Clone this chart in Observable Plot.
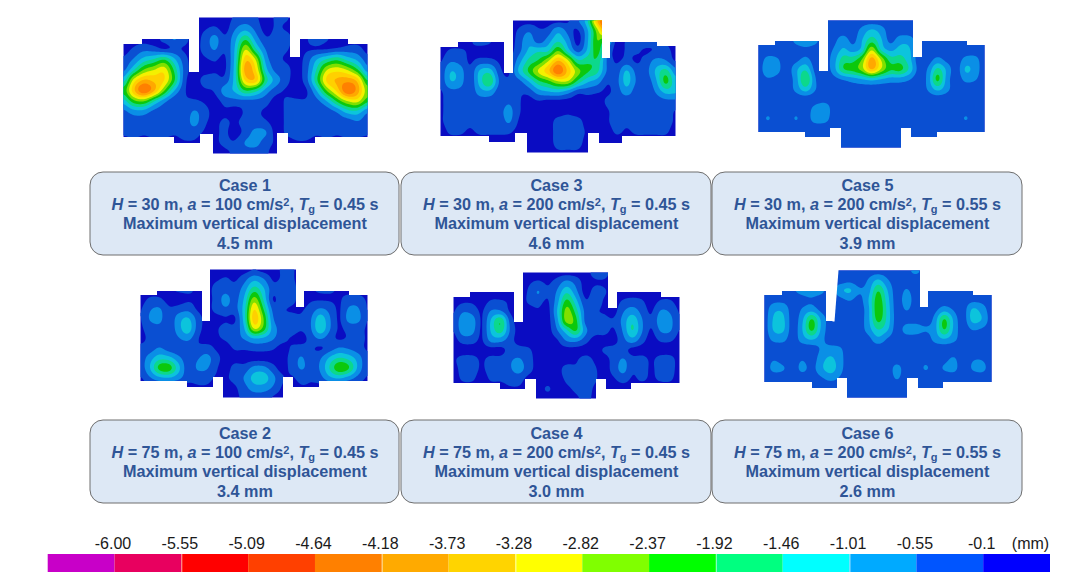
<!DOCTYPE html>
<html><head><meta charset="utf-8">
<script src="https://cdn.jsdelivr.net/npm/d3@7"></script>
<script src="https://cdn.jsdelivr.net/npm/@observablehq/plot@0.6"></script>
<style>html,body{margin:0;padding:0;background:#fff}svg{display:block}</style>
</head><body><div id="chart"></div>
<script>
// Displacement magnitude, in tenths of a millimetre (25 columns x 14 rows)
const case1 = [
[0,0,0,0,0,0,0,0,0,0,0,2,3,2,0,2,2,0,0,0,0,0,0,0,0],
[0,0,0,0,0,0,0,0,1,2,0,5,8,4,0,2,1,0,0,0,0,0,0,0,0],
[0,0,0,0,3,6,3,0,3,7,2,9,18,8,2,3,3,0,1,5,2,0,0,0,0],
[0,2,4,3,1,2,1,0,3,6,2,11,28,15,5,3,2,0,1,1,1,2,3,3,0],
[2,6,12,15,19,11,3,0,1,2,1,12,36,28,8,3,1,0,3,10,15,18,13,9,3],
[4,14,24,28,31,18,4,0,0,1,1,13,40,33,12,4,3,0,4,15,28,31,28,20,7],
[12,30,38,36,33,20,3,0,3,3,3,13,34,36,17,8,3,0,4,18,34,38,40,36,18],
[20,36,46,38,24,10,2,0,1,2,8,11,19,16,8,3,1,0,1,10,24,34,46,40,25],
[12,22,24,15,7,2,2,2,1,0,3,4,4,4,3,0,2,2,2,4,10,20,28,30,20],
[4,8,8,4,3,3,3,6,3,0,1,0,2,2,1,0,2,3,3,3,3,6,12,13,6],
[2,3,3,2,3,3,3,7,2,1,2,1,3,3,2,0,2,3,3,2,3,3,3,5,3],
[2,3,2,3,3,2,3,3,1,1,2,0,3,7,6,0,2,3,3,2,3,2,3,3,2],
[0,0,0,0,0,0,1,1,0,1,2,2,6,7,3,1,0,1,1,0,0,0,0,0,0],
[0,0,0,0,0,0,0,0,0,0,1,2,3,3,2,0,0,0,0,0,0,0,0,0,0]];
const case2 = [
[0,0,0,0,0,0,0,0,0,0,0,0,1,0,0,2,2,0,0,0,0,0,0,0,0],
[0,0,0,0,0,0,0,0,1,2,1,4,9,6,1,2,2,0,0,0,0,0,0,0,0],
[0,0,0,1,2,2,1,0,3,4,3,8,17,11,3,4,3,0,1,2,2,1,0,0,0],
[0,2,2,0,0,1,1,0,3,7,4,11,26,14,1,5,3,0,1,1,1,1,3,3,1],
[1,5,6,2,3,4,1,0,3,5,4,13,33,19,4,2,1,1,3,6,4,1,6,6,1],
[1,6,7,2,8,11,4,0,0,1,1,13,36,24,6,3,3,2,5,13,6,1,7,7,1],
[1,3,4,2,8,13,4,0,1,3,3,10,29,22,8,4,4,2,5,14,6,1,3,3,1],
[1,2,3,2,5,7,2,0,1,2,4,6,10,9,6,3,1,0,3,6,3,1,2,3,1],
[2,3,6,3,2,2,2,3,1,0,2,2,3,3,2,0,2,3,2,1,3,6,5,3,1],
[3,8,13,12,7,3,5,7,3,0,0,0,0,0,0,0,3,6,3,5,11,15,13,8,2],
[3,10,21,22,12,3,6,6,2,0,3,3,7,7,3,0,3,6,4,6,15,23,20,9,2],
[1,5,9,10,7,3,3,3,1,1,3,6,12,13,7,2,1,3,2,4,9,11,8,4,1],
[0,0,0,0,0,0,1,1,0,0,1,4,8,8,5,1,0,1,1,0,0,0,0,0,0],
[0,0,0,0,0,0,0,0,0,0,1,2,3,3,1,0,0,0,0,0,0,0,0,0,0]];
const case3 = [
[0,0,0,0,0,0,0,0,0,0,0,0,0,1,5,14,38,48,0,0,0,0,0,0,0],
[0,0,0,0,0,0,0,0,2,5,2,3,9,4,1,9,26,38,0,0,0,0,0,0,0],
[0,0,0,1,3,2,0,0,3,9,3,8,14,8,0,9,24,14,0,2,3,3,2,1,0],
[0,2,2,1,0,0,0,0,4,11,14,14,24,13,4,11,22,6,0,2,2,1,2,3,0],
[1,5,4,1,3,3,1,0,8,16,20,28,38,30,16,18,18,5,1,3,1,3,7,6,1],
[2,10,8,2,11,13,3,1,11,20,29,36,46,36,26,20,16,5,3,11,4,4,11,17,7],
[2,10,8,2,12,19,5,2,4,10,18,22,28,28,18,11,8,2,4,12,5,3,9,21,11],
[1,4,4,2,8,9,3,3,2,3,8,10,11,8,3,3,2,1,3,8,3,2,6,12,11],
[1,3,3,2,3,3,3,5,2,0,1,0,0,0,0,0,0,2,3,2,3,3,3,4,4],
[1,3,3,2,3,3,4,7,2,0,0,0,0,1,0,0,0,1,3,2,3,3,3,4,1],
[1,3,3,2,3,3,3,6,1,0,1,0,3,3,3,0,0,1,3,2,3,3,3,3,1],
[0,2,2,1,2,2,2,2,0,0,0,0,3,3,3,1,0,0,2,1,2,2,2,2,0],
[0,0,0,0,0,0,0,0,0,0,1,0,3,3,3,0,0,0,0,0,0,0,0,0,0],
[0,0,0,0,0,0,0,0,0,0,0,0,1,1,1,0,0,0,0,0,0,0,0,0,0]];
const case4 = [
[0,0,0,0,0,0,0,0,0,0,0,0,0,0,0,3,3,0,0,0,0,0,0,0,0],
[0,0,0,0,0,0,0,0,1,2,1,3,7,4,0,1,1,0,0,0,0,0,0,0,0],
[0,0,0,0,0,0,0,0,2,6,2,6,14,7,0,3,2,0,0,0,0,0,0,0,0],
[0,1,1,0,2,2,1,0,2,3,1,8,21,12,2,4,1,0,2,3,2,0,2,2,0],
[1,5,4,1,6,6,1,0,0,1,0,10,26,17,4,2,1,0,5,8,4,1,6,5,1],
[1,9,8,1,11,19,4,0,0,0,0,8,26,21,4,3,3,2,7,14,6,2,8,7,1],
[1,8,7,1,11,17,5,0,0,1,0,5,13,20,7,3,3,1,6,15,6,1,6,6,1],
[0,3,3,1,7,7,3,0,0,0,0,1,6,7,3,0,0,0,4,8,3,0,2,2,0],
[0,0,0,0,0,0,3,3,2,0,0,0,0,0,0,0,2,3,3,0,0,0,0,0,0],
[1,3,3,1,3,3,5,6,3,0,0,0,0,1,3,1,0,3,6,3,3,1,3,3,0],
[0,3,3,1,3,3,5,7,3,0,0,0,3,2,3,2,0,3,7,2,3,1,3,3,0],
[0,2,2,0,2,2,3,3,0,0,0,0,2,2,3,2,0,1,3,1,2,1,2,2,0],
[0,0,0,0,0,0,1,1,0,0,2,0,1,2,3,1,0,0,0,0,0,0,0,0,0],
[0,0,0,0,0,0,0,0,0,0,0,0,0,1,2,1,0,0,0,0,0,0,0,0,0]];
const case5 = [
[3,3,3,3,3,3,3,3,3,3,3,3,3,3,3,3,5,3,3,3,3,3,3,3,3],
[3,3,3,3,3,3,3,3,3,3,3,7,11,8,3,3,3,3,3,3,3,3,3,3,3],
[3,3,3,3,7,10,7,3,4,8,4,10,17,11,4,8,8,3,3,3,3,3,3,3,3],
[3,3,3,3,3,4,3,3,6,11,8,12,28,14,9,12,11,3,3,3,3,3,3,3,3],
[3,7,6,3,4,7,3,3,8,17,17,24,40,28,17,17,12,3,3,7,4,3,7,7,3],
[3,9,7,3,9,14,4,3,8,19,21,26,38,28,20,21,14,4,6,16,9,3,11,8,3],
[3,5,4,3,8,20,6,3,4,6,8,10,12,10,8,8,6,3,7,21,8,3,7,6,3],
[3,3,3,3,7,13,6,3,3,3,3,3,3,3,3,3,3,3,6,12,7,3,3,3,3],
[3,3,3,3,3,3,3,3,3,3,3,3,3,3,3,3,3,3,3,3,3,3,3,3,3],
[3,3,3,3,3,3,7,9,3,3,3,3,3,3,3,3,3,3,3,3,3,3,3,3,3],
[3,6,3,3,6,3,8,8,3,3,3,3,3,3,3,3,3,3,3,3,5,3,6,3,3],
[3,3,3,3,3,3,3,3,3,3,3,3,3,3,3,3,3,3,3,3,3,3,3,3,3],
[3,3,3,3,3,3,3,3,3,3,3,3,3,3,3,3,3,3,3,3,3,3,3,3,3],
[3,3,3,3,3,3,3,3,3,3,3,3,3,3,3,3,3,3,3,3,3,3,3,3,3]];
const case6 = [
[3,3,3,3,3,3,3,3,3,3,3,3,3,3,3,4,7,3,3,3,3,3,3,3,3],
[3,3,3,3,3,3,3,3,3,4,3,6,11,6,3,3,3,3,3,3,3,3,3,3,3],
[3,3,3,5,7,8,7,3,9,11,6,8,19,10,3,6,3,3,3,3,3,3,3,3,3],
[3,4,4,3,4,5,3,3,4,6,4,10,22,12,3,8,3,3,3,3,3,3,4,4,3],
[3,9,9,3,6,8,4,3,3,3,3,9,23,13,3,6,3,3,4,8,5,3,11,8,3],
[3,11,11,3,9,20,9,3,3,3,3,9,21,13,3,3,3,3,7,20,9,3,12,10,3],
[3,11,11,3,10,21,9,3,3,3,3,8,15,11,3,8,8,6,8,20,9,3,6,5,3],
[3,7,7,3,8,11,7,3,3,3,3,4,9,5,3,3,3,3,7,10,7,3,3,3,3],
[3,3,3,3,3,3,6,7,6,3,3,3,3,3,3,3,3,3,3,3,3,3,3,3,3],
[3,5,3,3,5,3,8,11,7,3,3,3,3,3,3,3,3,4,3,4,6,3,5,5,3],
[3,7,6,3,7,4,9,13,7,3,3,3,3,3,7,3,3,6,4,6,7,3,6,7,3],
[3,3,3,3,3,3,5,7,5,3,3,3,3,3,6,3,3,3,3,3,3,3,3,3,3],
[3,3,3,3,3,3,3,3,3,3,3,3,3,3,3,3,3,3,3,3,3,3,3,3,3],
[3,3,3,3,3,3,3,3,3,3,3,3,3,3,3,3,3,3,3,3,3,3,3,3,3]];

// Case parameters
const caseNumbers = [1,3,5,2,4,6];
const caseGrids = [case1,case3,case5,case2,case4,case6];
const heights = [30,30,30,75,75,75];
const accels = [100,200,200,100,200,200];
const periods = ["0.45","0.45","0.55","0.45","0.45","0.55"];
const maxDisp = ["4.5","4.6","3.9","3.4","3.0","2.6"];

// Legend
const legendLabels = ["-6.00","-5.55","-5.09","-4.64","-4.18","-3.73","-3.28","-2.82","-2.37","-1.92","-1.46","-1.01","-0.55","-0.1"];
const legendColors = ["#c800c8","#e8005f","#ff0000","#ff4000","#ff8000","#ffaa00","#ffd400","#ffff00","#80ff00","#00ff00","#00ff80","#00ffff","#00aaff","#0055ff","#0000ff"];
const legendSeams = ["-5.55","-4.18","-3.28","-1.92","-1.01"];
const mapColors = ["#0a0cc2","#0a4fd2","#0a8fe6","#0cc4dc","#0cd88c","#0cc80c","#80e000","#f4f000","#ffd000","#ffa800","#ff8000","#ff4000","#ff0000","#e8005f","#c800c8"];

// Layout of the six maps on the page: [left, top, right, bottom]
const mapBounds = [[123,17,367,153],[440,20,675,152],[758,20,984,147],[140,269,367,397],[453,272,679,398],[764,270,991,397]];
// Areas of each map's bounding box outside the building plan
const mapNotches = [
 [[123,17,142,44],[142,17,189,39],[189,17,199,72],[290,17,300,57],[300,17,348,39],[348,17,367,44],[123,137,174,153],[174,143,200,153],[200,134,213,153],[277,133,288,153],[288,143,315,153],[315,137,367,153]],
 [[440,20,458,47],[458,20,504,42],[504,20,513,73],[602,20,610,58],[610,20,657,42],[657,20,675,46],[440,136,489,152],[489,142,515,152],[515,133,527,152],[588,133,599,152],[599,143,622,152],[622,136,675,152]],
 [[758,20,775,45],[775,20,819,41],[819,20,828,71],[913,20,922,57],[922,20,967,41],[967,20,984,45],[758,132,805,147],[805,137,830,147],[830,128,841,147],[901,128,911,147],[911,137,937,147],[937,132,984,147]],
 [[140,269,157,295],[157,269,202,291],[202,269,210,321],[296,269,304,307],[304,269,349,291],[349,269,367,295],[140,381,187,397],[187,387,213,397],[213,377,223,397],[283,377,293,397],[293,387,319,397],[319,381,367,397]],
 [[453,272,470,297],[470,272,514,292],[514,272,523,322],[608,272,617,308],[617,272,661,292],[661,272,679,297],[453,383,500,398],[500,389,525,398],[525,379,536,398],[596,379,606,398],[606,389,631,398],[631,383,679,398]],
 [[764,270,782,295],[782,270,826,291],[826,270,834,321],[920,270,928,307],[928,270,973,291],[973,270,991,295],[764,382,812,397],[812,388,837,397],[837,378,847,397],[907,378,918,397],[918,388,943,397],[943,382,991,397]]
];
const case6Wedge = [[832,268],[838,268],[838,270],[834,321],[832,321]];
const boxBounds = [[90,172,399,255],[401,172,711,255],[712,172,1022,255],[90,420,399,503],[401,420,711,503],[712,420,1022,503]];
const lineOffsets = [13,32,51,71];
const legendBar = {left:47.7,right:1050,top:554,bottom:572,labelY:543};

// First contour sits a little above -0.1 to offset how coarsely the blue zones were read
const levels = legendLabels.map(l => Math.abs(+l)).reverse();
levels[0] = 0.15;
const thresholds = [-1, ...levels];

// Smooth (Catmull-Rom) sampling of one gridded field for the contour raster
function smoothField(grid){
  const rows = grid.length, cols = grid[0].length;
  const at = (i,j) => grid[Math.max(0,Math.min(rows-1,j))][Math.max(0,Math.min(cols-1,i))]/10;
  const cr = (a,b,c,d,t) => b + 0.5*t*(c-a + t*(2*a-5*b+4*c-d + t*(3*(b-c)+d-a)));
  return (index,w,h) => {
    const W = new Float64Array(w*h);
    for(let py=0;py<h;py++){
      const v=(py+.5)/h*(rows-1), j=Math.floor(v), tv=v-j;
      for(let px=0;px<w;px++){
        const u=(px+.5)/w*(cols-1), i=Math.floor(u), tu=u-i;
        const col=[-1,0,1,2].map(o=>cr(at(i-1,j+o),at(i,j+o),at(i+1,j+o),at(i+2,j+o),tu));
        W[py*w+px]=cr(col[0],col[1],col[2],col[3],tv);
      }
    }
    return W;
  };
}

const marks = [];
caseGrids.forEach((grid,k) => {
  const [x1,y1,x2,y2] = mapBounds[k];
  const pts = [];
  grid.forEach((row,j) => row.forEach((v,i) => pts.push({
    x: x1 + (x2-x1)*i/(row.length-1),
    y: y1 + (y2-y1)*j/(grid.length-1),
    mm: v/10
  })));
  marks.push(Plot.contour(pts, {x:"x",y:"y",fill:"mm",x1,y1,x2,y2,pixelSize:1,blur:1,interpolate:smoothField(grid),thresholds}));
  // notches reach slightly past the map's box so no contour edge shows beyond them
  const out = (v,b,d) => v===b ? v+d : v;
  marks.push(Plot.rect(mapNotches[k], {
    x1:d=>out(d[0],x1,-2),y1:d=>out(d[1],y1,-2),x2:d=>out(d[2],x2,2),y2:d=>out(d[3],y2,2),fill:"white"}));
});
marks.push(Plot.line(case6Wedge, {x:d=>d[0],y:d=>d[1],fill:"white",stroke:null}));

// Caption boxes
marks.push(Plot.rect(boxBounds, {x1:d=>d[0],y1:d=>d[1],x2:d=>d[2],y2:d=>d[3],rx:13,fill:"#dde8f5",stroke:"#6e6e6e",strokeWidth:1}));
const captionLines = [];
caseNumbers.forEach((n,k) => {
  const [a,b,c] = boxBounds[k];
  const cx = (a+c)/2;
  [`Case ${n}`,
   `H = ${heights[k]} m, a = ${accels[k]} cm/s2, Tg = ${periods[k]} s`,
   "Maximum vertical displacement",
   `${maxDisp[k]} mm`].forEach((t,i) => captionLines.push({x:cx,y:b+lineOffsets[i],t}));
});
marks.push(Plot.text(captionLines, {x:"x",y:"y",text:"t",fill:"#2f5597",fontSize:16.2,fontWeight:"bold",fontFamily:"Liberation Sans"}));

// Colour legend
const step = (legendBar.right-legendBar.left)/legendColors.length;
marks.push(Plot.rect(legendColors, {x1:(d,i)=>legendBar.left+i*step,x2:(d,i)=>legendBar.left+(i+1)*step,y1:()=>legendBar.top,y2:()=>legendBar.bottom,fill:{value:d=>d,scale:null}}));
marks.push(Plot.ruleX(legendSeams, {x:d=>legendBar.left+(legendLabels.indexOf(d)+1)*step,y1:()=>legendBar.top,y2:()=>legendBar.bottom,stroke:"white",strokeWidth:0.8,strokeOpacity:0.7}));
marks.push(Plot.text(legendLabels, {x:(d,i)=>legendBar.left+(i+1)*step-2,y:()=>legendBar.labelY,text:d=>d,fontSize:16,fill:"#1a1a1a",fontFamily:"Liberation Sans"}));
marks.push(Plot.text(["(mm)"], {x:()=>1030,y:()=>legendBar.labelY,text:d=>d,fontSize:16,fill:"#1a1a1a",fontFamily:"Liberation Sans"}));

const chart = Plot.plot({
  width:1080,height:588,margin:0,
  x:{domain:[0,1080],range:[0,1080],axis:null},
  y:{domain:[0,588],range:[0,588],axis:null},
  color:{type:"threshold",domain:levels,range:mapColors},
  style:{background:"white"},
  marks
});
document.getElementById("chart").append(chart);

// Rich text for the parameter lines: italics, superscript and subscript
d3.select(chart).selectAll("text").each(function(){
  const m = /^H = (\d+) m, a = (\d+) cm\/s2, Tg = ([\d.]+) s$/.exec(this.textContent);
  if(!m) return;
  const sel = d3.select(this); sel.text(null);
  const parts = [
    ["H","italic"],[` = ${m[1]} m, `],["a","italic"],[` = ${m[2]} cm/s`],
    ["2",null,"-4","11"],[", ",null,"4"],["T","italic"],["g",null,"3","11"],[` = ${m[3]} s`,null,"-3"]
  ];
  parts.forEach(([t,st,dy,fs])=>{
    const ts = sel.append("tspan").text(t);
    if(st) ts.attr("font-style",st);
    if(dy) ts.attr("dy",dy);
    if(fs) ts.attr("font-size",fs);
  });
});
</script></body></html>
